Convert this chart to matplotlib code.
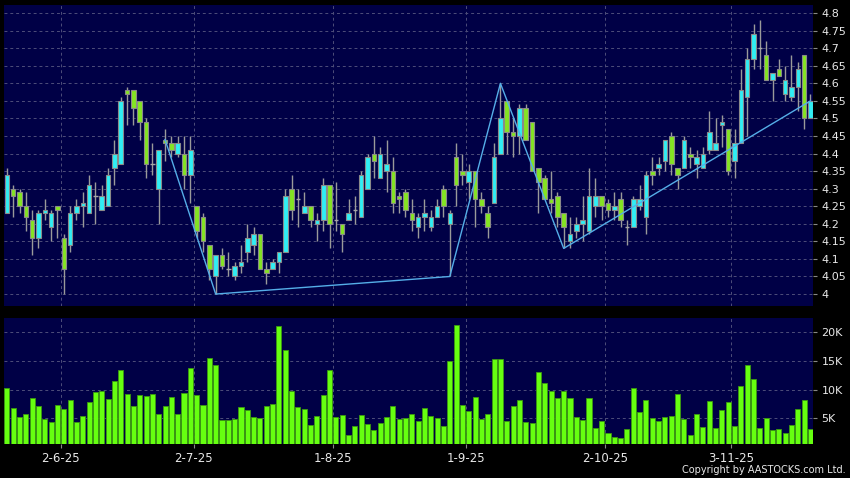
import matplotlib
matplotlib.use("Agg")
import matplotlib.pyplot as plt
import numpy as np

# daily OHLC (128 sessions)
opens = [4.23, 4.30, 4.29, 4.25, 4.21, 4.16, 4.23, 4.19, 4.25, 4.16,
         4.14, 4.23, 4.25, 4.23, 4.28, 4.24, 4.25, 4.36, 4.37, 4.58,
         4.58, 4.55, 4.49, 4.37, 4.30, 4.44, 4.43, 4.40, 4.40, 4.34,
         4.25, 4.22, 4.14, 4.05, 4.11, 4.07, 4.05, 4.08, 4.12, 4.14,
         4.17, 4.07, 4.07, 4.09, 4.12, 4.30, 4.27, 4.23, 4.25, 4.20,
         4.21, 4.31, 4.21, 4.20, 4.21, 4.24, 4.22, 4.30, 4.40, 4.33,
         4.35, 4.35, 4.28, 4.29, 4.23, 4.19, 4.22, 4.19, 4.22, 4.30,
         4.20, 4.39, 4.35, 4.32, 4.35, 4.27, 4.23, 4.26, 4.40, 4.55,
         4.46, 4.45, 4.53, 4.49, 4.36, 4.33, 4.27, 4.28, 4.23, 4.15,
         4.18, 4.20, 4.18, 4.25, 4.28, 4.26, 4.24, 4.27, 4.19, 4.19,
         4.25, 4.22, 4.35, 4.36, 4.38, 4.45, 4.36, 4.36, 4.40, 4.37,
         4.36, 4.41, 4.41, 4.48, 4.47, 4.38, 4.43, 4.56, 4.67, 4.70,
         4.68, 4.61, 4.64, 4.57, 4.56, 4.59, 4.68, 4.50]
highs = [4.36, 4.31, 4.30, 4.29, 4.24, 4.24, 4.27, 4.24, 4.25, 4.17,
         4.25, 4.27, 4.29, 4.34, 4.32, 4.31, 4.36, 4.44, 4.56, 4.59,
         4.58, 4.55, 4.50, 4.43, 4.41, 4.47, 4.45, 4.45, 4.45, 4.45,
         4.25, 4.23, 4.14, 4.11, 4.13, 4.12, 4.09, 4.14, 4.20, 4.19,
         4.17, 4.09, 4.10, 4.12, 4.30, 4.34, 4.30, 4.29, 4.25, 4.23,
         4.33, 4.31, 4.32, 4.20, 4.27, 4.28, 4.35, 4.40, 4.45, 4.42,
         4.44, 4.39, 4.29, 4.30, 4.27, 4.23, 4.27, 4.24, 4.27, 4.31,
         4.24, 4.43, 4.40, 4.37, 4.35, 4.29, 4.25, 4.43, 4.60, 4.55,
         4.50, 4.54, 4.54, 4.49, 4.36, 4.34, 4.35, 4.29, 4.23, 4.22,
         4.22, 4.28, 4.36, 4.33, 4.28, 4.27, 4.29, 4.29, 4.21, 4.28,
         4.31, 4.35, 4.39, 4.39, 4.44, 4.46, 4.36, 4.45, 4.42, 4.41,
         4.42, 4.52, 4.50, 4.51, 4.47, 4.47, 4.64, 4.70, 4.77, 4.78,
         4.72, 4.63, 4.67, 4.65, 4.68, 4.66, 4.68, 4.57]
lows = [4.23, 4.22, 4.23, 4.18, 4.11, 4.13, 4.21, 4.15, 4.16, 4.00,
        4.12, 4.21, 4.19, 4.23, 4.20, 4.24, 4.25, 4.31, 4.37, 4.48,
        4.48, 4.44, 4.33, 4.34, 4.20, 4.38, 4.39, 4.39, 4.30, 4.26,
        4.16, 4.12, 4.04, 4.00, 4.07, 4.05, 4.04, 4.06, 4.09, 4.11,
        4.07, 4.03, 4.07, 4.06, 4.12, 4.21, 4.19, 4.23, 4.19, 4.15,
        4.18, 4.13, 4.18, 4.12, 4.21, 4.20, 4.22, 4.30, 4.33, 4.33,
        4.29, 4.23, 4.23, 4.22, 4.18, 4.16, 4.18, 4.18, 4.22, 4.22,
        4.05, 4.25, 4.31, 4.27, 4.19, 4.23, 4.16, 4.26, 4.40, 4.40,
        4.39, 4.40, 4.44, 4.35, 4.23, 4.27, 4.23, 4.19, 4.13, 4.13,
        4.16, 4.15, 4.17, 4.22, 4.21, 4.22, 4.21, 4.19, 4.14, 4.19,
        4.24, 4.17, 4.31, 4.34, 4.35, 4.34, 4.30, 4.36, 4.36, 4.33,
        4.36, 4.40, 4.41, 4.42, 4.34, 4.33, 4.43, 4.45, 4.64, 4.64,
        4.61, 4.55, 4.62, 4.55, 4.55, 4.52, 4.47, 4.50]
closes = [4.34, 4.28, 4.25, 4.22, 4.16, 4.23, 4.24, 4.23, 4.24, 4.07,
          4.23, 4.25, 4.26, 4.31, 4.28, 4.28, 4.34, 4.40, 4.55, 4.57,
          4.53, 4.49, 4.37, 4.37, 4.41, 4.43, 4.41, 4.43, 4.34, 4.41,
          4.18, 4.15, 4.07, 4.11, 4.08, 4.07, 4.08, 4.09, 4.16, 4.17,
          4.07, 4.06, 4.09, 4.12, 4.28, 4.24, 4.27, 4.25, 4.21, 4.21,
          4.31, 4.20, 4.21, 4.17, 4.23, 4.24, 4.34, 4.39, 4.38, 4.40,
          4.37, 4.26, 4.27, 4.24, 4.21, 4.22, 4.23, 4.22, 4.25, 4.25,
          4.23, 4.31, 4.34, 4.35, 4.27, 4.25, 4.19, 4.39, 4.50, 4.46,
          4.45, 4.53, 4.44, 4.35, 4.32, 4.27, 4.26, 4.22, 4.19, 4.17,
          4.20, 4.21, 4.28, 4.28, 4.25, 4.24, 4.25, 4.21, 4.19, 4.27,
          4.27, 4.34, 4.34, 4.37, 4.44, 4.37, 4.34, 4.44, 4.39, 4.39,
          4.40, 4.46, 4.43, 4.49, 4.35, 4.43, 4.58, 4.67, 4.74, 4.70,
          4.61, 4.63, 4.62, 4.61, 4.59, 4.64, 4.50, 4.55]
# volume in thousands of shares
volumes = [10.2, 6.8, 5.3, 5.8, 8.6, 7.1, 4.8, 4.3, 7.3, 6.7,
           8.2, 4.4, 5.4, 7.9, 9.5, 9.7, 8.3, 11.5, 13.3, 9.2,
           7.1, 9.0, 8.8, 9.3, 5.8, 7.1, 8.7, 5.8, 9.4, 13.8,
           9.0, 7.3, 15.5, 14.2, 4.7, 4.7, 4.9, 6.9, 6.5, 5.2,
           5.0, 7.1, 7.4, 21.0, 16.8, 9.7, 6.9, 6.6, 3.9, 5.4,
           9.1, 13.4, 5.3, 5.5, 2.1, 3.7, 5.6, 4.0, 2.9, 4.2,
           5.3, 7.2, 4.8, 5.0, 5.8, 4.6, 6.8, 5.4, 5.0, 3.6,
           14.9, 21.2, 7.3, 6.3, 8.7, 4.8, 5.7, 15.3, 15.3, 4.5,
           7.2, 8.1, 4.4, 4.2, 13.0, 11.1, 9.7, 8.6, 9.7, 8.6,
           5.2, 4.7, 8.6, 3.4, 4.6, 2.4, 1.7, 1.6, 3.2, 10.2,
           6.1, 8.2, 5.0, 4.5, 5.3, 5.4, 9.3, 4.8, 2.1, 5.8,
           3.5, 8.0, 3.4, 6.4, 7.9, 3.6, 10.6, 14.2, 11.9, 3.4,
           5.0, 3.0, 3.1, 2.5, 3.8, 6.6, 8.2, 3.1]

# zigzag overlay (session index, price)
zz_idx = [25, 33, 70, 78, 88, 127]
zz_px = [4.44, 4.00, 4.05, 4.60, 4.13, 4.55]

# first session of each labelled month
month_idx = [9, 30, 52, 73, 95, 115]
month_lbl = ["2-6-25", "2-7-25", "1-8-25", "1-9-25", "2-10-25", "3-11-25"]

price_ticks = np.arange(4.0, 4.801, 0.05)
vol_ticks = [5, 10, 15, 20]

UP = "#30eef4"
DOWN = "#84e422"
BG = "#000046"
GRID = "#4e4e7a"
TXT = "#e8e8e8"

plt.rcParams["font.family"] = "DejaVu Sans"

fig = plt.figure(figsize=(8.5, 4.78), dpi=100, facecolor="black")
ax = fig.add_axes([4 / 850, 1 - 306 / 478, 809 / 850, 301 / 478])
axv = fig.add_axes([4 / 850, 1 - 444 / 478, 809 / 850, 126 / 478], sharex=ax)

o = np.array(opens)
h = np.array(highs)
l = np.array(lows)
c = np.array(closes)
x = np.arange(len(o))

for a in (ax, axv):
    a.set_facecolor(BG)
    for s in a.spines.values():
        s.set_visible(False)
    for m in month_idx:
        a.axvline(m - 0.5, color=GRID, lw=0.7, ls=(0, (3, 3)), zorder=0)

for p in price_ticks:
    ax.axhline(p, color=GRID, lw=0.7, ls=(0, (3, 3)), zorder=0)
for v in vol_ticks:
    axv.axhline(v, color=GRID, lw=0.7, ls=(0, (3, 3)), zorder=0)

# wicks
ax.vlines(x, l, h, color="#9a9a9a", lw=1, zorder=2)

doji = o == c
up = (c > o)
dn = (c < o)
ax.bar(x[up], (c - o)[up], bottom=o[up], width=0.72, color=UP,
       edgecolor="#8a8a8a", lw=0.8, zorder=3)
ax.bar(x[dn], (o - c)[dn], bottom=c[dn], width=0.72, color=DOWN,
       edgecolor="#8a8a8a", lw=0.8, zorder=3)
ax.hlines(c[doji], x[doji] - 0.36, x[doji] + 0.36, color="#a8a8a8", lw=1, zorder=3)

ax.plot(zz_idx, zz_px, color="#55aee8", lw=1, zorder=4)

axv.bar(x, volumes, width=0.8, color="#66ff10", edgecolor="#3c9a10", lw=0.6, zorder=3)

ax.set_xlim(-0.45, 127.4)
ax.set_ylim(3.966, 4.823)
axv.set_ylim(0.55, 22.4)

ax.yaxis.tick_right()
ax.set_yticks(price_ticks)
ax.set_yticklabels(["%g" % round(p, 2) for p in price_ticks])
axv.yaxis.tick_right()
axv.set_yticks(vol_ticks)
axv.set_yticklabels(["%dK" % v for v in vol_ticks])
for a in (ax, axv):
    a.tick_params(axis="y", colors="#888888", labelcolor=TXT, length=3,
                  width=0.8, pad=3, labelsize=8)

ax.tick_params(axis="x", bottom=False, labelbottom=False)
axv.set_xticks([m - 0.5 for m in month_idx])
axv.set_xticklabels(month_lbl)
axv.tick_params(axis="x", colors="#888888", labelcolor=TXT, length=3,
                width=0.8, pad=3, labelsize=8.5)

fig.text(0.995, 0.006, "Copyright by AASTOCKS.com Ltd.", color=TXT,
         fontsize=7, ha="right", va="bottom")

fig.savefig("out.png", dpi=100, facecolor="black")
